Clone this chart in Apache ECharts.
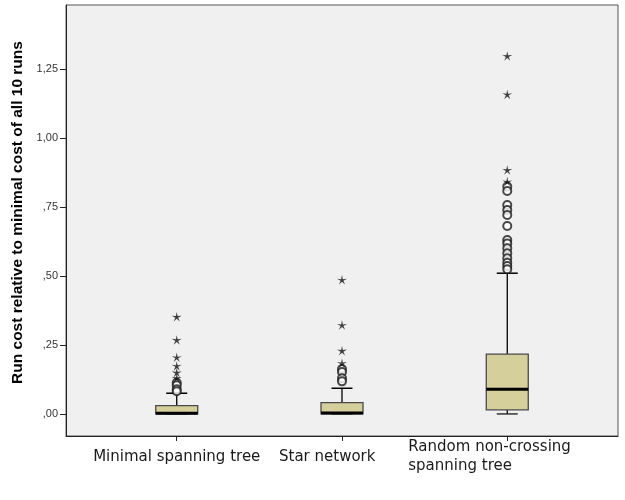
<!DOCTYPE html>
<html>
<head>
<meta charset="utf-8">
<script src="https://cdn.jsdelivr.net/npm/echarts@6/dist/echarts.min.js"></script>
<style>html,body{margin:0;padding:0;background:#fff}#c{width:625px;height:500px}</style>
</head>
<body>
<div id="c"></div>
<script>
// ---- data ----
var categories = ['Minimal spanning tree', 'Star network', 'Random non-crossing\nspanning tree'];
// [min, Q1, median, Q3, max] of the whiskers/box
var boxMinimal = [0, 0.000, 0.002, 0.030, 0.075];
var boxStar    = [0, 0.000, 0.003, 0.041, 0.093];
var boxRandom  = [0, 0.015, 0.089, 0.217, 0.510];
// outliers (circles) and extreme values (stars)
var circMinimal = [0.113, 0.104, 0.089, 0.082];
var starMinimal = [0.352, 0.268, 0.205, 0.174, 0.150, 0.130];
var circStar    = [0.163, 0.152, 0.129, 0.118];
var starStar    = [0.486, 0.322, 0.229, 0.184];
var circRandom  = [0.824, 0.808, 0.757, 0.739, 0.721, 0.681, 0.630, 0.618, 0.600, 0.582, 0.564, 0.548, 0.536, 0.524];
var starRandom  = [1.297, 1.158, 0.884, 0.842];
var yTicks = [0, 0.25, 0.5, 0.75, 1.0, 1.25];
var yTickLabels = [',00', ',25', ',50', ',75', '1,00', '1,25'];

// ---- build ----
var boxes = [boxMinimal, boxStar, boxRandom];
var circles = [circMinimal, circStar, circRandom];
var stars = [starMinimal, starStar, starRandom];
var boxData = boxes.map(function (b, i) { return [i + 1].concat(b); });
var circData = [], starData = [];
circles.forEach(function (arr, i) { arr.forEach(function (v) { circData.push([i + 1, v]); }); });
stars.forEach(function (arr, i) { arr.forEach(function (v) { starData.push([i + 1, v]); }); });

function starPath(n, R, r) {
  var d = '';
  for (var i = 0; i < 2 * n; i++) {
    var a = -Math.PI / 2 + i * Math.PI / n;
    var rad = i % 2 ? r : R;
    d += (i ? 'L' : 'M') + (50 + rad * Math.cos(a)).toFixed(2) + ',' + (50 + rad * Math.sin(a)).toFixed(2);
  }
  return 'path://' + d + 'Z';
}

var labelFont = { fontFamily: 'DejaVu Sans', fontSize: 15, color: '#1a1a1a', lineHeight: 19 };
var chart = echarts.init(document.getElementById('c'));
chart.setOption({
  backgroundColor: '#ffffff',
  animation: false,
  grid: { left: 66, right: 7, top: 5, bottom: 64, show: true, backgroundColor: '#f0f0f0', borderColor: '#555', borderWidth: 1 },
  xAxis: {
    type: 'value', min: 0.33, max: 3.67,
    splitLine: { show: false },
    axisLine: { show: true, onZero: false, lineStyle: { color: '#222', width: 1 } },
    axisTick: { show: true, customValues: [1, 2, 3], length: 5, lineStyle: { color: '#222' } },
    axisLabel: {
      customValues: [1, 2, 3], margin: 21, verticalAlign: 'middle', hideOverlap: false,
      showMinLabel: true, showMaxLabel: true,
      fontFamily: 'DejaVu Sans', fontSize: 15, color: '#1a1a1a', lineHeight: 19,
      formatter: function (v) {
        var idx = Math.round(v) - 1;
        var t = categories[idx];
        var style = ['a', 's', 'w'][idx];
        return t.split('\n').map(function (s) { return '{' + style + '|' + s + '}'; }).join('\n');
      },
      rich: {
        a: Object.assign({}, labelFont),
        s: Object.assign({ width: 126, align: 'left' }, labelFont),
        w: Object.assign({ width: 198, align: 'left' }, labelFont)
      }
    }
  },
  yAxis: {
    type: 'value', min: -0.08, max: 1.482,
    name: 'Run cost relative to minimal cost of all 10 runs',
    nameLocation: 'middle', nameGap: 37,
    nameTextStyle: { fontFamily: 'Liberation Sans', fontWeight: 'bold', fontSize: 15.5, color: '#000', padding: [0, 0, 0, 16] },
    splitLine: { show: false },
    axisLine: { show: true, onZero: false, lineStyle: { color: '#222', width: 1 } },
    axisTick: { show: true, customValues: yTicks, length: 6, lineStyle: { color: '#222' } },
    axisLabel: {
      customValues: yTicks, margin: 8,
      fontFamily: 'Liberation Sans', fontSize: 11, color: '#333',
      formatter: function (v) {
        for (var i = 0; i < yTicks.length; i++) { if (Math.abs(yTicks[i] - v) < 1e-6) return yTickLabels[i]; }
        return '';
      }
    }
  },
  series: [
    {
      type: 'custom',
      data: boxData,
      encode: { x: 0, y: [1, 2, 3, 4, 5] },
      renderItem: function (params, api) {
        var x = api.value(0);
        var pMin = api.coord([x, api.value(1)]);
        var pQ1 = api.coord([x, api.value(2)]);
        var pMed = api.coord([x, api.value(3)]);
        var pQ3 = api.coord([x, api.value(4)]);
        var pMax = api.coord([x, api.value(5)]);
        var cx = pMin[0];
        var bw = 42, cw = 21;
        return {
          type: 'group',
          children: [
            { type: 'line', shape: { x1: cx, y1: pQ3[1], x2: cx, y2: pMax[1] }, style: { stroke: '#000', lineWidth: 1.3 } },
            { type: 'line', shape: { x1: cx, y1: pQ1[1], x2: cx, y2: pMin[1] }, style: { stroke: '#000', lineWidth: 1.3 } },
            { type: 'line', shape: { x1: cx - cw / 2, y1: pMax[1], x2: cx + cw / 2, y2: pMax[1] }, style: { stroke: '#000', lineWidth: 1.5 } },
            { type: 'line', shape: { x1: cx - cw / 2, y1: pMin[1], x2: cx + cw / 2, y2: pMin[1] }, style: { stroke: '#333', lineWidth: 1.5 } },
            { type: 'rect', shape: { x: cx - bw / 2, y: pQ3[1], width: bw, height: Math.max(pQ1[1] - pQ3[1], 1) }, style: { fill: '#d4cf9b', stroke: '#4a4a4a', lineWidth: 1.3 } },
            { type: 'line', shape: { x1: cx - bw / 2, y1: pMed[1], x2: cx + bw / 2, y2: pMed[1] }, style: { stroke: '#000', lineWidth: 3 } }
          ]
        };
      },
      z: 2
    },
    {
      type: 'scatter', data: circData, symbol: 'emptyCircle', symbolSize: 8,
      itemStyle: { color: '#1a1a1a', borderColor: '#1a1a1a', borderWidth: 1.5 }, z: 3
    },
    {
      type: 'scatter', data: starData, symbol: starPath(5, 50, 14), symbolSize: 10, symbolKeepAspect: true,
      itemStyle: { color: '#111' }, z: 3
    }
  ]
});
</script>
</body>
</html>
